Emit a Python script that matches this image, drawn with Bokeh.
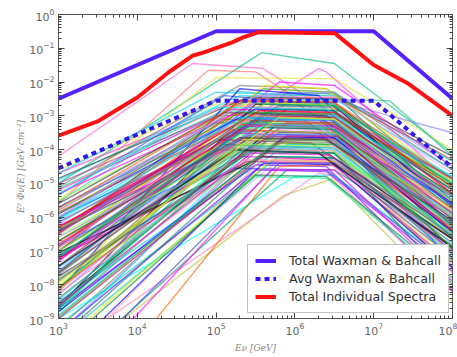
import numpy as np
from bokeh.plotting import figure
from bokeh.models import LogAxis, Legend, LegendItem, Range1d, FixedTicker
from bokeh.embed import file_html
from bokeh.resources import INLINE

# ---- thick summary curves (E in GeV, E^2 Phi in GeV cm^-2) ----
wb_total_E = [1e3, 1e5, 1e7, 1e8]
wb_total_F = [3.2e-3, 0.32, 0.32, 3.2e-3]
wb_avg_E = [1e3, 1e5, 1e7, 1e8]
wb_avg_F = [2.8e-5, 2.8e-3, 2.8e-3, 2.9e-5]
ind_total_E = [1e3, 3.2e3, 1e4, 2.5e4, 5e4, 7e4, 1.6e5, 2.2e5, 3.5e5, 3.2e6, 5e6, 1e7, 2.8e7, 1e8]
ind_total_F = [2.6e-4, 7e-4, 3.5e-3, 1.95e-2, 0.06, 0.076, 0.15, 0.21, 0.30, 0.28, 0.12, 0.032, 8.7e-3, 1e-3]

# ---- individual spectra: broken power laws, log10 values ----
spec_logF_1e3 = [
    -4.2, -5.0, -5.6, -6.5, -5.5, -7.0, -6.0, -4.6, -4.7, -4.9,
    -5.1, -6.4, -4.7, -7.3, -5.15, -5.55, -8.1, -4.85, -8.1, -5.35, -5.7, -7.0, -8.2,
    -5.5, -6.75, -5.2, -8.1, -6.4, -5.0, -8.2, -6.1, -7.6, -6.9, -5.2, -6.0, -8.65, -6.9, -6.7,
    -7.15, -6.5, -5.8, -7.65, -7.5, -5.3, -8.7, -6.05, -6.35, -7.45, -6.7, -5.7, -8.3, -6.45, -5.9,
    -6.55, -8.15, -6.15, -8.8, -6.85, -7.75, -6.35, -9.55, -7.45, -6.3, -8.6, -6.4, -8.55, -7.0, -7.15,
    -7.85, -7.25, -9.3, -6.45, -8.5, -6.25, -8.8, -7.1, -7.0, -7.65, -8.15, -6.85, -9.45, -5.85, -8.8,
    -8.0, -9.6, -7.2, -10.7, -8.7, -7.2, -10.5, -9.0, -10.0, -7.2, -10.5, -7.75, -7.05, -12.6, -9.65, -8.65,
    -6.8, -7.9, -5.9, -8.9, -7.3, -9.2, -6.2, -8.4, -5.6, -9.8, -7.6, -6.6, -8.1, -10.3, -7.0, -6.0,
    -8.6, -7.15, -9.4, -6.45, -7.8, -5.3, -8.25, -9.0, -6.9, -10.9, -7.45, -5.75, -8.75, -9.9, -6.3,
    -7.7, -8.95, -6.05, -11.4, -7.2, -8.45, -9.6, -6.7, -7.95,
]
spec_logE_break1 = [
    4.7, 5.58, 4.9, 6.3, 5.0, 5.5, 5.4, 5.0, 5.2, 5.3,
    5.3, 5.6, 5.0, 5.8, 5.5, 5.2, 5.9, 5.4, 5.6, 5.1, 5.7, 5.5, 5.3,
    5.4, 5.7, 5.2, 5.9, 5.5, 5.0, 5.6, 5.3, 5.8, 5.4, 5.1, 5.7, 5.5, 5.2, 5.6,
    5.9, 5.3, 5.0, 5.5, 5.75, 5.4, 5.6, 5.2, 5.8, 5.45, 5.65, 5.3, 5.7, 5.1, 5.5,
    5.5, 5.8, 5.2, 5.6, 5.4, 5.9, 5.3, 5.7, 5.5, 5.0, 5.6, 5.45, 5.75, 5.3, 5.55,
    5.8, 5.2, 5.65, 5.4, 5.9, 5.5, 5.3, 5.7, 5.1, 5.6, 5.35, 5.75, 5.5, 5.25, 5.85,
    5.6, 5.8, 5.3, 5.9, 5.5, 5.0, 5.85, 6.0, 6.3, 5.4, 5.7, 5.2, 5.6, 5.8, 5.5, 5.3,
    5.6, 5.5, 5.3, 5.7, 5.4, 5.8, 5.2, 5.6, 5.1, 5.7, 5.5, 5.4, 5.9, 5.6, 5.3, 5.5,
    5.45, 5.75, 5.5, 5.2, 5.65, 5.0, 5.35, 5.9, 5.45, 5.8, 5.25, 5.35, 5.6, 5.5, 5.55,
    5.15, 5.75, 5.25, 5.7, 5.6, 5.4, 5.65, 5.3, 5.8,
]
spec_logF_break1 = [
    -1.45, -1.13, -1.65, -1.6, -1.87, -2.6, -2.5, -2.65, -2.6, -2.4,
    -2.1, -2.2, -2.3, -2.0, -2.4, -2.25, -2.3, -2.45, -2.1, -2.4, -2.35, -2.5, -2.2,
    -2.6, -2.7, -2.8, -2.6, -2.9, -3.0, -2.75, -3.1, -2.85, -3.05, -2.7, -3.0, -2.65, -2.95, -3.15,
    -2.8, -2.55, -3.2, -2.9, -3.1, -2.75, -3.0, -2.85, -2.7, -3.15, -2.6, -3.05, -2.9, -3.1, -2.8,
    -3.3, -3.4, -3.5, -3.6, -3.25, -3.7, -3.8, -3.35, -3.45, -3.7, -3.9, -3.55, -3.3, -3.65, -3.95,
    -3.5, -3.4, -3.75, -3.2, -3.85, -3.6, -3.3, -3.45, -3.85, -3.35, -3.7, -3.55, -3.95, -3.25, -3.65,
    -4.1, -4.3, -4.2, -4.6, -4.45, -4.0, -5.37, -4.8, -4.7, -4.35, -4.0, -4.55, -4.2, -4.5, -4.8, -4.05,
    -3.0, -3.6, -2.9, -3.9, -3.3, -4.2, -3.2, -3.7, -2.9, -4.3, -3.1, -3.55, -3.2, -4.4, -3.85, -2.4,
    -4.1, -2.8, -4.6, -3.45, -3.45, -2.75, -4.3, -3.6, -3.0, -4.4, -4.0, -2.55, -3.3, -4.75, -2.85,
    -3.95, -3.8, -3.05, -4.6, -2.65, -3.9, -4.05, -3.65, -3.05,
]
spec_logE_break2 = [
    5.6, 6.5, 5.5, 6.4, 6.5, 6.5, 7.2, 6.3, 6.4, 6.5,
    6.4, 6.5, 6.3, 6.5, 6.5, 6.2, 6.5, 6.6, 6.4, 6.0, 6.5, 6.5, 6.3,
    6.5, 6.5, 6.2, 6.5, 6.4, 6.5, 6.6, 6.5, 6.5, 6.3, 6.4, 6.5, 6.5, 6.1, 6.5,
    6.6, 6.5, 6.2, 6.5, 6.5, 6.4, 6.5, 6.3, 6.5, 6.5, 6.45, 6.5, 6.5, 6.4, 6.5,
    6.5, 6.5, 6.3, 6.5, 6.5, 6.6, 6.4, 6.5, 6.5, 6.2, 6.5, 6.5, 6.45, 6.5, 6.4,
    6.5, 6.3, 6.5, 6.5, 6.55, 6.5, 6.4, 6.5, 6.3, 6.5, 6.5, 6.5, 6.5, 6.4, 6.5,
    6.5, 6.5, 6.4, 6.5, 6.4, 6.3, 6.47, 6.5, 6.45, 6.5, 6.5, 6.4, 6.5, 6.5, 6.4, 6.5,
    6.5, 6.4, 6.5, 6.5, 6.5, 6.5, 6.3, 6.5, 6.4, 6.5, 6.5, 6.4, 6.5, 6.5, 6.4, 6.5,
    6.45, 6.5, 6.4, 6.3, 6.5, 6.4, 6.4, 6.55, 6.5, 6.5, 6.3, 6.5, 6.45, 6.4, 6.5,
    6.3, 6.5, 6.45, 6.5, 6.5, 6.5, 6.5, 6.4, 6.5,
]
spec_logF_break2 = [
    -1.6, -1.45, -1.7, -1.7, -1.9, -2.55, -2.55, -2.7, -2.6, -2.5,
    -2.2, -2.3, -2.4, -2.1, -2.4, -2.5, -2.35, -2.5, -2.2, -2.6, -2.3, -2.45, -2.4,
    -2.7, -2.75, -2.9, -2.65, -3.0, -2.9, -2.8, -3.0, -2.9, -3.1, -2.8, -2.95, -2.7, -3.1, -3.1,
    -2.85, -2.6, -3.25, -2.95, -3.1, -2.85, -3.05, -3.0, -2.75, -3.2, -2.7, -3.0, -2.95, -3.2, -2.85,
    -3.35, -3.45, -3.6, -3.65, -3.3, -3.7, -3.85, -3.4, -3.5, -3.8, -3.9, -3.6, -3.35, -3.7, -4.0,
    -3.5, -3.5, -3.8, -3.25, -3.85, -3.65, -3.4, -3.5, -3.95, -3.4, -3.75, -3.55, -4.0, -3.35, -3.65,
    -4.1, -4.3, -4.3, -4.6, -4.5, -4.1, -4.87, -4.75, -4.75, -4.4, -4.05, -4.6, -4.25, -4.45, -4.85, -4.1,
    -3.05, -3.7, -2.95, -3.95, -3.35, -4.25, -3.3, -3.75, -3.0, -4.35, -3.15, -3.6, -3.25, -4.45, -3.9, -2.45,
    -4.15, -2.85, -4.65, -3.5, -3.5, -2.8, -4.35, -3.6, -3.1, -4.4, -4.1, -2.6, -3.35, -4.8, -2.9,
    -4.05, -3.85, -3.1, -4.6, -2.7, -3.95, -4.1, -3.7, -3.1,
]
spec_logF_1e8 = [
    -5.2, -4.1, -5.5, -5.0, -4.0, -3.5, -4.2, -5.0, -5.3, -4.6,
    -4.6, -5.15, -4.8, -4.5, -4.35, -5.75, -5.65, -4.2, -4.9, -5.6, -4.5, -4.3, -6.3,
    -4.95, -5.6, -5.4, -5.05, -6.2, -4.85, -5.2, -4.8, -6.2, -6.15, -5.05, -5.2, -5.7, -6.15, -5.05,
    -5.5, -5.3, -5.95, -5.35, -6.55, -4.85, -5.75, -6.4, -4.85, -5.75, -6.4, -5.6, -6.1, -5.35, -5.6,
    -5.75, -6.3, -6.0, -6.95, -5.55, -6.2, -7.05, -5.95, -7.1, -6.5, -6.3, -5.55, -6.6, -6.35, -6.4,
    -6.95, -6.4, -6.65, -6.25, -6.15, -5.85, -7.1, -5.85, -7.0, -6.05, -5.8, -7.3, -7.0, -5.75, -6.45,
    -6.65, -7.45, -6.85, -6.85, -8.2, -7.35, -8.5, -7.45, -8.15, -6.65, -7.65, -7.5, -6.65, -7.45, -7.9, -8.0,
    -5.4, -6.2, -5.0, -6.8, -5.9, -7.1, -5.9, -6.6, -5.3, -7.3, -5.65, -6.0, -5.9, -7.5, -6.5, -4.7,
    -7.0, -5.2, -7.6, -6.3, -6.0, -5.4, -7.0, -6.4, -5.8, -7.2, -6.9, -4.9, -6.3, -7.8, -5.1,
    -6.75, -6.9, -5.5, -7.9, -5.0, -6.55, -7.2, -6.1, -5.55,
]

# ---- tick values ----
x_major = [1e3, 1e4, 1e5, 1e6, 1e7, 1e8]
y_major = [1e-9, 1e-8, 1e-7, 1e-6, 1e-5, 1e-4, 1e-3, 1e-2, 1e-1, 1e0]

special_colors = ["#ff66cc", "#00c080", "#ff7070", "#ff40ff", "#e0e040",
                  "#9080ff", "#20c090", "#f0f040", "#ff40c0", "#00e0ff"]
palette = ["#00ffff", "#ff00ff", "#00a060", "#ff0000", "#0000ff", "#000000",
           "#e8e800", "#ff80c0", "#00c8a0", "#8000ff", "#808080", "#80ff40",
           "#ff6000", "#3060ff", "#c00060", "#40c0c0", "#a040a0", "#40a000",
           "#ff90ff", "#00ff90", "#9090ff", "#ffa0a0", "#208080", "#c0c040",
           "#00d0ff", "#d000d0", "#008040", "#e04040", "#4040e0", "#404040"]

n = len(spec_logF_1e3)
xs, ys, cols = [], [], []
for i in range(n):
    le = [3.0, spec_logE_break1[i], spec_logE_break2[i], 8.0]
    lf = [spec_logF_1e3[i], spec_logF_break1[i], spec_logF_break2[i], spec_logF_1e8[i]]
    xs.append(list(10.0 ** np.array(le)))
    ys.append(list(10.0 ** np.array(lf)))
    cols.append(special_colors[i] if i < len(special_colors) else palette[(i * 7) % len(palette)])

p = figure(width=457, height=357, x_axis_type="log", y_axis_type="log",
           x_range=Range1d(1e3, 1e8), y_range=Range1d(1e-9, 1.0),
           output_backend="svg", toolbar_location=None,
           min_border_left=58, min_border_right=5, min_border_top=14, min_border_bottom=39)
p.grid.visible = False
p.outline_line_color = "#555555"
p.outline_line_width = 1

p.multi_line(xs=xs, ys=ys, line_color=cols, line_alpha=0.65, line_width=1.4)

r_tot = p.line(wb_total_E, wb_total_F, line_color="#5522ff", line_width=4)
r_avg = p.line(wb_avg_E, wb_avg_F, line_color="#3318ee", line_width=4, line_dash="5 4")
r_ind = p.line(ind_total_E, ind_total_F, line_color="#ff1111", line_width=4)

def minors(majors):
    out = []
    for m in majors[:-1]:
        out += [m * k for k in range(2, 10)]
    return out

xt = FixedTicker(ticks=x_major, minor_ticks=minors(x_major))
yt = FixedTicker(ticks=y_major, minor_ticks=minors(y_major))

for ax, t in ((p.xaxis[0], xt), (p.yaxis[0], yt)):
    ax.ticker = t
    ax.axis_line_color = None
    ax.major_tick_in = 6
    ax.major_tick_out = 0
    ax.minor_tick_in = 3
    ax.minor_tick_out = 0
    ax.major_tick_line_color = "#444444"
    ax.minor_tick_line_color = "#444444"
    ax.major_label_text_font = "DejaVu Sans"
    ax.major_label_text_font_size = "11px"
    ax.major_label_text_color = "#666666"
    ax.axis_label_text_font = "DejaVu Serif"
    ax.axis_label_text_font_style = "italic"
    ax.axis_label_text_font_size = "9px"
    ax.axis_label_text_color = "#888888"

p.xaxis.major_label_standoff = 4
p.yaxis.major_label_standoff = 4
p.xaxis.axis_label = "E\u03bd [GeV]"
p.yaxis.axis_label = "E\u00b2 \u03a6\u03bd(E) [GeV cm\u207b\u00b2]"
p.xaxis.axis_label_standoff = 5
p.yaxis.axis_label_standoff = 0

def frame_axis(ticks):
    return LogAxis(ticker=FixedTicker(ticks=ticks, minor_ticks=minors(ticks)),
                   major_label_text_font_size="1px", major_label_text_alpha=0.0,
                   major_label_standoff=0,
                   axis_line_color=None, major_tick_in=6, major_tick_out=0,
                   minor_tick_in=3, minor_tick_out=0,
                   major_tick_line_color="#444444", minor_tick_line_color="#444444")

p.add_layout(frame_axis(x_major), "above")
p.add_layout(frame_axis(y_major), "right")

legend = Legend(items=[
    LegendItem(label="Total Waxman & Bahcall", renderers=[r_tot]),
    LegendItem(label="Avg Waxman & Bahcall", renderers=[r_avg]),
    LegendItem(label="Total Individual Spectra", renderers=[r_ind]),
], location=(189, 5), margin=0, padding=7, spacing=1,
   label_height=17, glyph_height=17, glyph_width=21, label_standoff=13,
   label_text_font="DejaVu Sans", label_text_font_size="12.6px",
   label_text_color="#333333", border_line_color="#888888",
   background_fill_alpha=1.0)
p.add_layout(legend)

open("out.html", "w").write(file_html(p, INLINE))
